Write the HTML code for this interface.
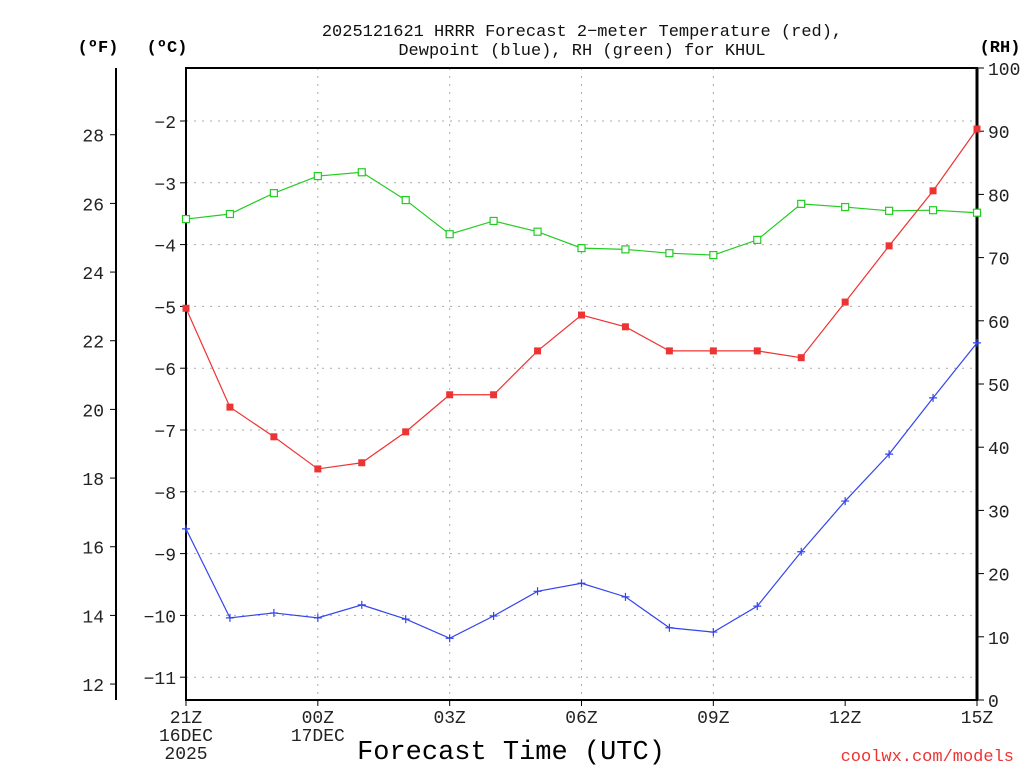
<!DOCTYPE html>
<html><head><meta charset="utf-8"><style>
body{margin:0;background:#fff;width:1024px;height:768px;overflow:hidden}
svg text{font-family:"Liberation Mono","DejaVu Sans Mono",monospace}
</style></head><body>
<svg id="c" width="1024" height="768" xmlns="http://www.w3.org/2000/svg"></svg>
<script>
const hours=[0,1,2,3,4,5,6,7,8,9,10,11,12,13,14,15,16,17,18];
const xTickLabels=[["21Z","16DEC","2025"],["00Z","17DEC"],["03Z"],["06Z"],["09Z"],["12Z"],["15Z"]];
const tempC=[-5.03,-6.63,-7.11,-7.63,-7.53,-7.03,-6.43,-6.43,-5.72,-5.14,-5.33,-5.72,-5.72,-5.72,-5.83,-4.93,-4.02,-3.13,-2.13];
const dewC=[-8.60,-10.04,-9.96,-10.04,-9.83,-10.06,-10.37,-10.01,-9.61,-9.48,-9.70,-10.20,-10.27,-9.85,-8.97,-8.15,-7.39,-6.48,-5.59];
const rh=[76.1,76.9,80.2,82.9,83.5,79.1,73.7,75.8,74.1,71.5,71.3,70.7,70.4,72.8,78.5,78.0,77.4,77.5,77.1];
const cTicks=[-2,-3,-4,-5,-6,-7,-8,-9,-10,-11];
const fTicks=[28,26,24,22,20,18,16,14,12];
const rhTicks=[0,10,20,30,40,50,60,70,80,90,100];
const NS="http://www.w3.org/2000/svg",svg=document.getElementById('c');
const L=186,R=977,T=68,B=700;
const X=h=>L+h*(R-L)/18;
const YC=c=>121+(-2-c)*61.8;
const YF=f=>YC((f-32)/1.8);
const YR=r=>B-r*(B-T)/100;
function el(t,a,txt){const e=document.createElementNS(NS,t);for(const k in a)e.setAttribute(k,a[k]);if(txt!=null)e.textContent=txt;svg.appendChild(e);return e;}
function tx(x,y,s,size,anchor,fill,w){return el('text',{x:x,y:y,'font-size':size,'text-anchor':anchor||'middle',fill:fill||'#000','font-weight':w||'normal'},s);}
cTicks.forEach(c=>{const g=el('line',{x1:L,x2:R,y1:YC(c),y2:YC(c),stroke:'#aaa','stroke-dasharray':'2,6'});

});
[3,6,9,12].forEach(h=>{const g=el('line',{x1:X(h),x2:X(h),y1:T,y2:B,stroke:'#aaa','stroke-dasharray':'2,6'});

});
const fr=el('rect',{x:L,y:T,width:R-L,height:B-T,fill:'none',stroke:'#000','stroke-width':2});


el('line',{x1:R,x2:R,y1:T,y2:B,stroke:'#000','stroke-width':3});
cTicks.forEach(c=>{el('line',{x1:L-6,x2:L,y1:YC(c),y2:YC(c),stroke:'#000'});
const t=tx(L-10,YC(c)+7,'\u2212'+Math.abs(c),18,'end','#222');

});
el('line',{x1:116,x2:116,y1:T,y2:B,stroke:'#000','stroke-width':2});
fTicks.forEach(f=>{el('line',{x1:110,x2:116,y1:YF(f),y2:YF(f),stroke:'#000'});
const t=tx(104,YF(f)+7,String(f),18,'end','#222');

});
rhTicks.forEach(r=>{el('line',{x1:R,x2:R+7,y1:YR(r),y2:YR(r),stroke:'#000'});
const t=tx(988,YR(r)+7,String(r),18,'start','#222');

});
xTickLabels.forEach((lab,i)=>{const x=X(i*3);el('line',{x1:x,x2:x,y1:B,y2:B+6,stroke:'#000'});
lab.forEach((s,j)=>{const t=tx(x,B+23+j*18,s,18,'middle','#222');

});});
function series(vals,yf,color,name,marker){
 const pts=vals.map((v,i)=>X(hours[i])+','+yf(v)).join(' ');
 const p=el('polyline',{points:pts,fill:'none',stroke:color,'stroke-width':1.2});
 
 
 vals.forEach((v,i)=>{const x=X(hours[i]),y=yf(v);let m;
  if(marker==='fill')m=el('rect',{x:x-3.5,y:y-3.5,width:7,height:7,fill:color});
  else if(marker==='open')m=el('rect',{x:x-3.5,y:y-3.5,width:7,height:7,fill:'#fff',stroke:color,'stroke-width':1.2});
  else{m=el('path',{d:`M${x-4} ${y}H${x+4}M${x} ${y-4}V${y+4}`,stroke:color,'stroke-width':1.2});}
  
  });
}
series(rh,YR,'#22cc22','rh','open');
series(tempC,YC,'#ee3333','temperature','fill');
series(dewC,YC,'#3344ee','dewpoint','plus');
let t=tx(582,36,'2025121621 HRRR Forecast 2\u2212meter Temperature (red),',17,'middle','#111');


t=tx(582,55,'Dewpoint (blue), RH (green) for KHUL',17,'middle','#111');


t=tx(98,52,'(ºF)',17,'middle','#000','bold');


t=tx(167,52,'(ºC)',17,'middle','#000','bold');


t=tx(1000,52,'(RH)',17,'middle','#000','bold');


t=tx(511,759,'Forecast Time (UTC)',27,'middle','#000');


t=tx(1014,761,'coolwx.com/models',17,'end','#ee3333');


</script>
</body></html>
